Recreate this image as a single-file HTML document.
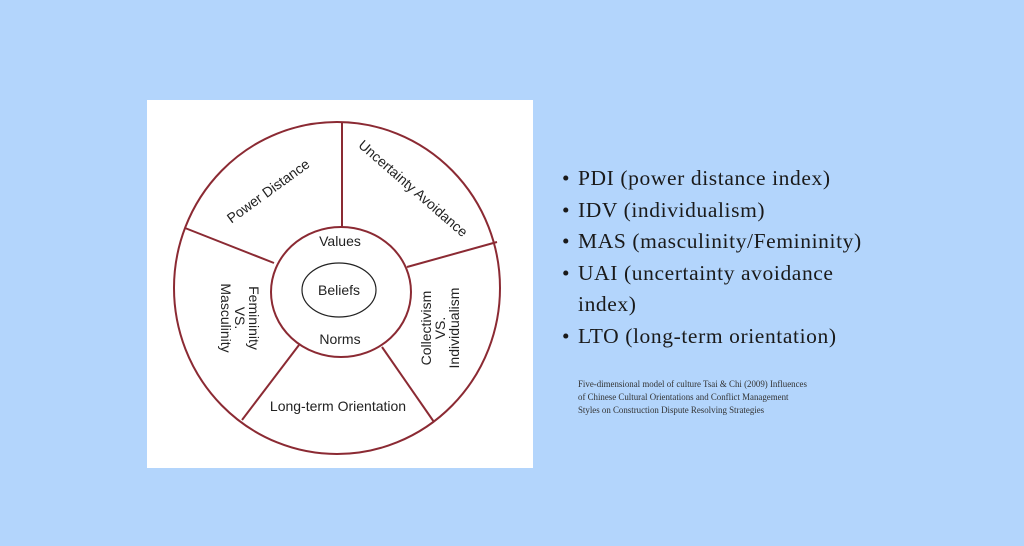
<!DOCTYPE html>
<html><head><meta charset="utf-8"><style>
body{margin:0;width:1024px;height:546px;background:#b3d5fc;position:relative;overflow:hidden;font-family:"Liberation Serif",serif;}
.card{position:absolute;left:147px;top:100px;width:386px;height:368px;background:#fff;}
ul{position:absolute;left:562px;top:163px;margin:0;padding:0;list-style:none;font-size:21.5px;letter-spacing:0.6px;color:#1a1a1a;line-height:31.5px;}
li{padding-left:16px;position:relative;}
li:before{content:"•";position:absolute;left:0;}
.cap{position:absolute;left:578px;top:378px;font-size:8.9px;line-height:13px;color:#333;}
</style></head><body>
<div class="card"></div>
<svg width="1024" height="546" style="position:absolute;left:0;top:0" font-family="Liberation Sans, sans-serif" fill="#222">
<g stroke="#8b2a33" stroke-width="2" fill="none">
<ellipse cx="337" cy="288" rx="163" ry="166"/>
<ellipse cx="341" cy="292" rx="70" ry="65"/>
<line x1="342" y1="123" x2="342" y2="227"/>
<line x1="185" y1="228" x2="274" y2="263"/>
<line x1="497" y1="242" x2="407" y2="267"/>
<line x1="242" y1="420" x2="299" y2="345"/>
<line x1="434" y1="422" x2="382" y2="347"/>
</g>
<ellipse cx="339" cy="290" rx="37" ry="27" stroke="#222" stroke-width="1.2" fill="none"/>
<g font-size="14" text-anchor="middle">
<text transform="translate(271,195) rotate(-36)">Power Distance</text>
<text transform="translate(410,192) rotate(41)">Uncertainty Avoidance</text>
<text transform="translate(338,411)">Long-term Orientation</text>
<text transform="translate(235,318) rotate(90)"><tspan x="0" y="-14">Femininity</tspan><tspan x="0" y="0">VS.</tspan><tspan x="0" y="14">Masculinity</tspan></text>
<text transform="translate(445,328) rotate(-90)"><tspan x="0" y="-14">Collectivism</tspan><tspan x="0" y="0">VS.</tspan><tspan x="0" y="14">Individualism</tspan></text>
<text x="340" y="246">Values</text>
<text x="339" y="295">Beliefs</text>
<text x="340" y="344">Norms</text>
</g>
</svg>
<ul>
<li>PDI (power distance index)</li>
<li>IDV (individualism)</li>
<li>MAS (masculinity/Femininity)</li>
<li>UAI (uncertainty avoidance<br>index)</li>
<li>LTO (long-term orientation)</li>
</ul>
<div class="cap">Five-dimensional model of culture Tsai &amp; Chi (2009) Influences<br>of Chinese Cultural Orientations and Conflict Management<br>Styles on Construction Dispute Resolving Strategies</div>
</body></html>
